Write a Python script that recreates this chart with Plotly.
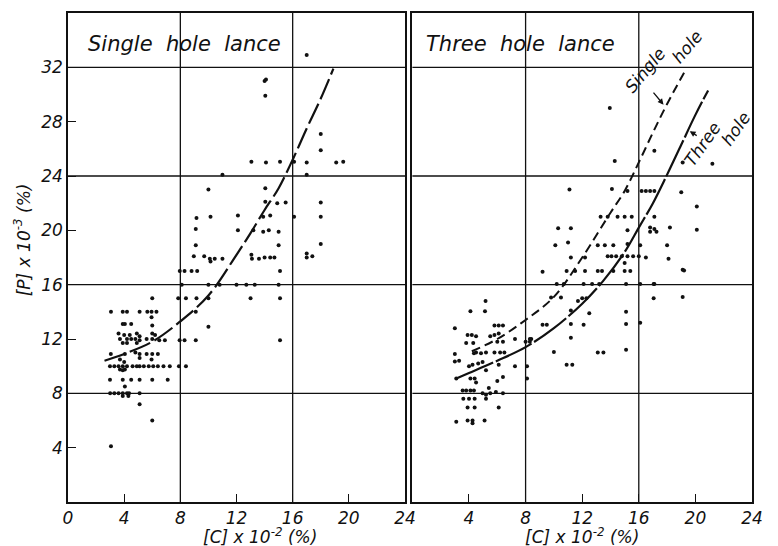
import plotly.graph_objects as go

# ---------------- data ----------------
# Single hole lance: [C] x 10^-2 (%) vs [P] x 10^-3 (%)
L_C = [3.06, 3.9, 4.2, 5.1, 5.65, 5.95, 6.3,
       6.0, 7.85, 8.4, 9.15, 10.0, 13.0, 15.1,
       5.95, 3.9, 4.05, 4.5, 6.0, 9.1, 10.0,
       3.6, 4.0, 4.4, 4.9, 5.1, 6.0, 6.2, 3.7, 4.2, 4.5, 4.8, 5.1, 5.6, 6.0, 6.5, 6.9, 7.95, 8.3, 9.1,
       3.9, 4.2, 4.9,
       3.05, 4.05, 4.8, 5.1, 5.6, 6.0, 6.4,
       3.7, 4.0, 5.1, 5.95,
       2.99, 3.3, 3.6, 3.9, 4.2, 4.6, 4.9, 5.1, 5.4, 5.75, 6.07, 6.4, 6.8, 7.25, 7.9, 8.4,
       3.7, 3.9, 4.05,
       2.99, 3.9, 4.5, 5.1, 6.0, 7.1,
       4.05,
       3.0, 3.3, 3.6, 3.9, 4.2, 4.35, 5.1,
       3.9, 4.3, 5.1, 6.0, 3.06,
       7.96, 8.3, 8.8, 9.2, 15.1,
       8.1, 10.0, 10.8, 12.0, 12.7, 13.3, 15.0,
       15.1,
       14.0, 14.1, 14.05, 17.0,
       13.06, 14.1, 15.1, 16.1, 17.0, 19.1, 19.6,
       18.0, 18.0, 11.0, 17.0, 10.0, 14.05,
       14.05, 14.9, 15.5, 18.0, 18.0,
       9.15, 10.15, 12.1, 13.9, 14.4, 16.1,
       9.1, 12.1, 13.2, 13.9, 14.3, 15.0,
       9.1, 15.0, 18.0,
       8.96, 9.7, 10.1, 10.45, 11.0, 10.15,
       13.06, 13.1, 13.6, 14.0, 14.4, 14.7,
       17.0, 17.0, 17.4]
L_P = [14, 14, 14, 14, 14, 14, 14,
       15, 15, 15, 15, 15, 15, 15,
       13.6, 13.1, 13.1, 13.1, 13.0, 14.0, 12.9,
       12.4, 12.3, 12.3, 12.4, 12.2, 12.4, 12.3, 12.0, 12.0, 12.0, 12.0, 11.9, 12.0, 12.0, 11.9, 11.9, 11.9, 11.9, 11.9,
       11.7, 11.7, 11.7,
       10.9, 10.9, 11.0, 10.9, 10.9, 10.9, 10.9,
       10.5, 10.3, 10.6, 10.5,
       10, 10, 10, 10, 10, 10, 10, 10, 10, 10, 10, 10, 10, 10, 10, 10,
       9.75, 9.7, 9.75,
       9, 9, 9, 9, 9, 9,
       8.5,
       8, 8, 8, 8, 8, 8, 8,
       7.8, 7.8, 7.2, 6.0, 4.1,
       17, 17, 17, 17, 17,
       16, 16, 16, 16, 16, 16, 16,
       11.9,
       31.0, 31.1, 29.9, 32.9,
       25.05, 25.0, 25.05, 25.05, 25.0, 25.0, 25.05,
       27.1, 25.9, 24.1, 24.1, 23.0, 23.1,
       22.1, 22.0, 22.05, 22.05, 21.0,
       20.9, 21.0, 21.1, 21.0, 21.1, 21.0,
       20.1, 20.0, 20.0, 19.9, 20.0, 19.9,
       18.9, 18.9, 19.0,
       18.1, 18.1, 17.9, 17.9, 17.9, 17.7,
       18.2, 17.9, 17.9, 18.0, 18.0, 18.0,
       18.3, 18.0, 18.1]

# Three hole lance
R_C = [5.17, 4.1, 5.13, 3.0,
       5.8, 6.1, 6.4,
       3.9, 4.2, 4.5, 3.8, 4.3,
       5.5, 5.8, 6.1, 6.0, 6.4, 7.25, 8.0, 8.3,
       4.35, 4.5, 4.85, 5.2, 5.8, 6.2, 6.5, 3.0,
       3.0, 3.3,
       4.0, 4.25, 4.65, 4.96, 5.2, 6.1, 7.25, 8.1, 8.1,
       3.1, 4.1, 4.4, 4.5, 6.0, 6.4, 5.4,
       3.55, 3.8, 4.1, 4.35,
       3.6, 4.0, 4.4,
       4.96, 5.2, 5.5, 5.9, 6.4, 5.2,
       3.9, 4.4, 6.1,
       3.1, 3.9, 4.25, 4.25, 5.1,
       9.2, 19.1, 19.1, 17.05, 17.05, 15.1, 15.1, 15.1, 16.1,
       13.1, 13.5, 10.9, 11.3, 10.0, 11.2, 11.2, 12.1, 11.2, 12.5, 9.2, 9.5, 8.3, 8.4,
       9.8, 10.5, 11.7, 12.0, 12.3,
       13.95, 14.3, 17.1, 19.1, 21.2,
       11.1, 14.1, 15.2, 16.2, 16.5, 16.8, 17.1, 19.0, 20.1,
       13.3, 13.8, 14.5, 15.0, 15.5, 17.1,
       10.3, 11.2, 15.2, 16.8, 17.1, 16.8, 17.25, 18.2, 20.1,
       10.1, 11.0, 13.1, 13.6, 14.2, 15.2, 16.1, 18.0,
       11.2, 12.2, 13.8, 14.07, 14.4, 14.8, 15.2, 15.6, 16.0, 16.5, 15.0, 18.1,
       10.9, 11.5, 12.2, 13.1, 13.4, 14.2, 15.0, 15.4, 19.2,
       10.2, 10.7, 12.1, 12.7, 13.2, 15.1, 16.1, 17.1]
R_P = [14.8, 14.05, 14.05, 12.8,
       13.0, 13.0, 13.0,
       12.3, 12.3, 12.2, 11.7, 11.7,
       12.2, 12.3, 12.4, 11.8, 11.8, 12.0, 11.8, 11.8,
       10.95, 11.0, 10.95, 11.0, 11.0, 11.0, 11.0, 10.9,
       10.35, 10.4,
       10.0, 10.1, 10.2, 10.3, 9.7, 10.1, 10.0, 10.0, 9.1,
       9.1, 9.1, 9.1, 8.8, 8.9, 9.2, 8.4,
       8.2, 8.2, 8.2, 8.2,
       7.6, 7.6, 7.6,
       8.0, 7.9, 8.0, 8.1, 8.0, 7.6,
       6.95, 6.95, 6.95,
       5.9, 6.0, 6.0, 5.8, 6.0,
       16.95, 17.1, 15.1, 16.05, 15.0, 14.0, 13.1, 11.2, 13.2,
       11.0, 11.0, 10.1, 10.1, 11.05, 12.1, 13.1, 13.05, 14.1, 13.9, 13.05, 13.05, 12.0, 12.0,
       15.05, 15.05, 14.8, 15.0, 15.0,
       29.0, 25.1, 25.85, 25.0, 24.9,
       23.0, 23.05, 22.9, 22.9, 22.9, 22.9, 22.9, 22.8, 21.75,
       21.0, 21.0, 21.0, 21.0, 21.0, 21.0,
       20.15, 20.15, 20.0, 20.2, 20.1, 19.9, 19.9, 20.2, 20.05,
       18.9, 19.1, 18.9, 18.9, 18.9, 19.0, 18.9, 18.9,
       18.0, 18.0, 18.1, 18.1, 18.1, 18.1, 18.1, 18.1, 18.1, 18.0, 17.6, 17.9,
       17.0, 17.0, 17.0, 17.0, 17.0, 17.0, 17.0, 17.0, 17.05,
       16.05, 16.05, 16.05, 16.05, 16.05, 16.05, 16.05, 16.05]

# fitted curves
L_CURVE_C = [2.6, 4, 6, 8, 10, 12, 13, 14, 15, 16, 17, 18, 18.9]
L_CURVE_P = [10.4, 10.9, 11.8, 13.3, 15.2, 18.2, 19.8, 21.5, 23.1, 25.2, 27.5, 29.7, 31.9]
R_SINGLE_C = [4.2, 6, 8, 10, 12, 14, 15, 16, 17, 18, 19.2]
R_SINGLE_P = [11.1, 12.0, 13.4, 15.1, 18.0, 21.3, 22.9, 25.0, 27.2, 29.3, 31.6]
R_THREE_C = [3.1, 4, 6, 8, 10, 12, 13.5, 15, 16, 17, 18, 19, 20, 20.9]
R_THREE_P = [9.1, 9.5, 10.4, 11.4, 12.8, 14.6, 16.3, 18.4, 20.2, 22.0, 24.1, 26.3, 28.5, 30.3]

X_TICKS_L = [0, 4, 8, 12, 16, 20, 24]
X_TICKS_R = [4, 8, 12, 16, 20, 24]
Y_TICKS = [4, 8, 12, 16, 20, 24, 28, 32]
GRID_X = [8, 16]
GRID_Y = [8, 16, 24, 32]

FONT = "DejaVu Sans"
INK = "#111111"

fig = go.Figure()

dot = dict(size=4, color=INK)
fig.add_trace(go.Scatter(x=L_C, y=L_P, mode="markers", marker=dot, xaxis="x", yaxis="y", showlegend=False))
fig.add_trace(go.Scatter(x=R_C, y=R_P, mode="markers", marker=dot, xaxis="x2", yaxis="y2", showlegend=False))
fig.add_trace(go.Scatter(x=L_CURVE_C, y=L_CURVE_P, mode="lines", line=dict(color=INK, width=2.2, dash="22px,5px", shape="spline"),
                         xaxis="x", yaxis="y", showlegend=False))
fig.add_trace(go.Scatter(x=R_SINGLE_C, y=R_SINGLE_P, mode="lines", line=dict(color=INK, width=2, dash="9px,5px", shape="spline"),
                         xaxis="x2", yaxis="y2", showlegend=False))
fig.add_trace(go.Scatter(x=R_THREE_C, y=R_THREE_P, mode="lines", line=dict(color=INK, width=2.2, dash="40px,3px", shape="spline"),
                         xaxis="x2", yaxis="y2", showlegend=False))

shapes = []
for xr, yr in (("x", "y"), ("x2", "y2")):
    for g in GRID_X:
        shapes.append(dict(type="line", xref=xr, yref=yr + " domain", x0=g, x1=g, y0=0, y1=1,
                           line=dict(color=INK, width=1.3), layer="below"))
    for g in GRID_Y:
        shapes.append(dict(type="line", xref=xr + " domain", yref=yr, x0=0, x1=1, y0=g, y1=g,
                           line=dict(color=INK, width=1.3), layer="below"))

tickfont = dict(family=FONT, size=17, color=INK, style="italic")
axis_common = dict(range=[0, 24], showgrid=False, zeroline=False, showline=True, linecolor=INK, linewidth=1.6,
                   mirror=True, ticks="inside", ticklen=8, tickwidth=1.3, tickcolor=INK, tickfont=tickfont,
                   ticklabelstandoff=0)
yaxis_common = dict(range=[0, 36], showgrid=False, zeroline=False, showline=True, linecolor=INK, linewidth=1.6,
                    mirror=True, tickfont=tickfont)

it = lambda s: dict(family=FONT, size=s, color=INK, style="italic")
annotations = [
    dict(text="Single  hole  lance", x=1.25, y=33.7, xref="x", yref="y", xanchor="left", yanchor="middle",
         showarrow=False, font=it(21)),
    dict(text="Three  hole  lance", x=0.85, y=33.7, xref="x2", yref="y2", xanchor="left", yanchor="middle",
         showarrow=False, font=it(21)),
    dict(text="[P] x 10<sup>-3</sup> (%)", x=-0.066, y=0.537, xref="paper", yref="paper", textangle=-90,
         xanchor="center", yanchor="middle", showarrow=False, font=it(17)),
    dict(text="[C] x 10<sup>-2</sup> (%)", x=13.7, y=-0.070, xref="x", yref="paper",
         xanchor="center", yanchor="middle", showarrow=False, font=it(17)),
    dict(text="[C] x 10<sup>-2</sup> (%)", x=12.0, y=-0.070, xref="x2", yref="paper",
         xanchor="center", yanchor="middle", showarrow=False, font=it(17)),
    dict(text="Single", x=16.45, y=31.8, xref="x2", yref="y2", textangle=-50, showarrow=False,
         xanchor="center", yanchor="middle", font=it(17)),
    dict(text="hole", x=19.4, y=33.5, xref="x2", yref="y2", textangle=-50, showarrow=False,
         xanchor="center", yanchor="middle", font=it(17)),
    dict(text="Three", x=20.5, y=26.35, xref="x2", yref="y2", textangle=-55, showarrow=False,
         xanchor="center", yanchor="middle", font=it(17)),
    dict(text="hole", x=22.85, y=27.45, xref="x2", yref="y2", textangle=-55, showarrow=False,
         xanchor="center", yanchor="middle", font=it(17)),
    dict(text="", x=17.75, y=29.25, ax=16.95, ay=30.25, xref="x2", yref="y2", axref="x2", ayref="y2",
         showarrow=True, arrowhead=2, arrowsize=0.9, arrowwidth=1.3, arrowcolor=INK),
    dict(text="", x=19.6, y=27.3, ax=20.2, ay=26.9, xref="x2", yref="y2", axref="x2", ayref="y2",
         showarrow=True, arrowhead=2, arrowsize=0.9, arrowwidth=1.3, arrowcolor=INK),
]

# the page adds an 8px body margin, so the margins are shifted to keep the plot area in place
fig.update_layout(
    width=778, height=546,
    margin=dict(l=60, r=34, t=3, b=52),
    paper_bgcolor="white", plot_bgcolor="white",
    xaxis=dict(axis_common, domain=[0, 0.4927], anchor="y", tickvals=X_TICKS_L),
    xaxis2=dict(axis_common, domain=[0.5035, 1.0], anchor="y2", tickvals=X_TICKS_R),
    yaxis=dict(yaxis_common, domain=[0, 1], anchor="x", tickvals=Y_TICKS, ticks="inside", ticklen=8,
               tickwidth=1.3, tickcolor=INK, ticklabelstandoff=0),
    yaxis2=dict(yaxis_common, domain=[0, 1], anchor="x2", showticklabels=False, ticks=""),
    shapes=shapes,
    annotations=annotations,
)

fig.write_html("out.html")
